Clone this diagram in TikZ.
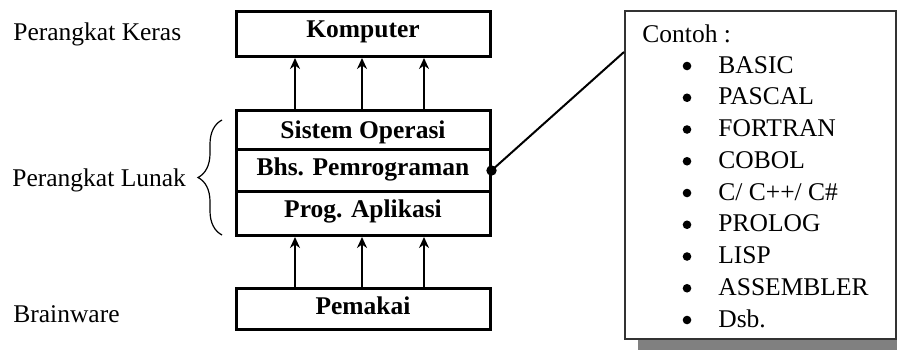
\documentclass[tikz,border=0pt]{standalone}
\usepackage{fontspec}
\setmainfont{Liberation Serif}
\usetikzlibrary{arrows.meta,decorations.pathreplacing,shadows,calc}
\begin{document}
\begin{tikzpicture}[x=0.5pt,y=-0.5pt,
  txt/.style={font=\fontsize{12.75}{15}\selectfont, inner sep=0pt},
  layer/.style={draw, line width=1.5pt, inner sep=0pt, minimum width=127pt,
    font=\fontsize{12.75}{15}\selectfont\bfseries, anchor=north},
  arr/.style={line width=1.1pt, -{Stealth[length=5.5pt,width=5pt]}},
  calloutbox/.style={draw=black!80, line width=0.8pt, fill=white, inner sep=0pt,
    minimum width=135.5pt, minimum height=164pt, anchor=north west,
    drop shadow={shadow xshift=6.5pt, shadow yshift=-5.5pt, fill=black!50, opacity=1}},
  item/.style={txt, anchor=base west},
  bul/.style={circle, fill=black, inner sep=0pt, minimum size=4.3pt}]
\useasboundingbox (0,0) rectangle (897,349);

% left labels
\node[txt, anchor=base west] (lkeras) at (13,40) {Perangkat Keras};
\node[txt, anchor=base west] (llunak) at (12,186) {Perangkat Lunak};
\node[txt, anchor=base west] (lbrain) at (13,322) {Brainware};

% stack
\node[layer, text height=13pt, text depth=9.5pt] (komp) at (363,10) {Komputer};
\node[layer, text height=14pt, text depth=5.5pt] (sis) at (363,109) {Sistem Operasi};
\node[layer, text height=13pt, text depth=8pt] (bhs) at (363,148) {Bhs. Pemrograman};
\node[layer, text height=13pt, text depth=9pt] (prog) at (363,190) {Prog. Aplikasi};
\node[layer, text height=13pt, text depth=7.5pt] (pem) at (363,287) {Pemakai};

% arrow columns
\coordinate (c1) at (295,0);
\coordinate (c2) at (362,0);
\coordinate (c3) at (424,0);
\foreach \c in {c1,c2,c3}{
  \draw[arr] (sis.north -| \c) -- (komp.south -| \c);
  \draw[arr] (pem.north -| \c) -- (prog.south -| \c);
}

% brace
\draw[line width=0.6pt, decorate, decoration={brace, amplitude=12pt, aspect=0.5}]
  (222,235) -- (222,120);

% callout
\node[calloutbox] (callout) at (624,10) {};
\coordinate (cend) at ($(callout.north west)+(0,42)$);
\fill (bhs.east) circle (2.6pt);
\draw[line width=1pt] (bhs.east) -- (cend);

\node[item] (contoh) at (642,42) {Contoh :};
\foreach \t [count=\i from 0] in {BASIC,PASCAL,FORTRAN,COBOL,{C/ C++/ C\#},PROLOG,LISP,ASSEMBLER,Dsb.}{
  \node[bul] (b\i) at (687,66+31.75*\i) {};
  \node[item] (t\i) at (718,73+31.75*\i) {\t};
}
\end{tikzpicture}
\end{document}
